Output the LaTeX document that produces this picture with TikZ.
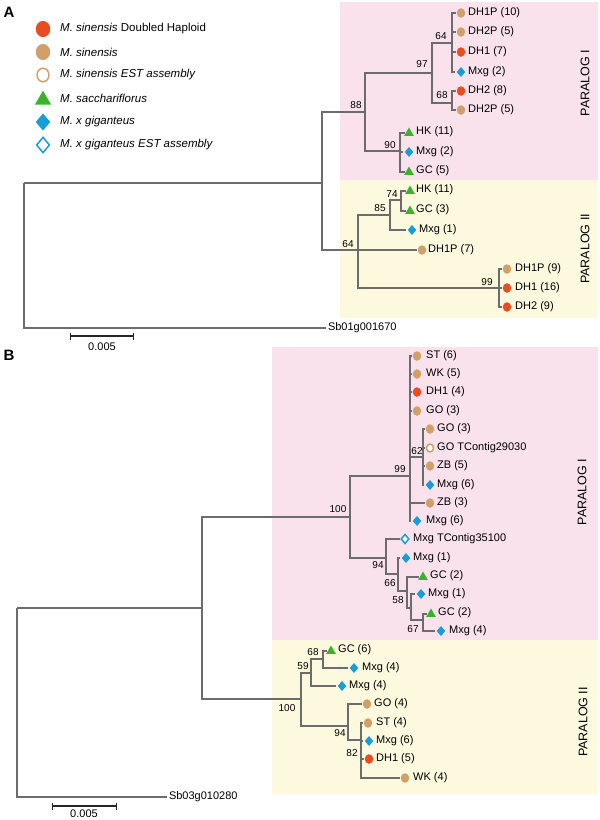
\documentclass[tikz,border=0pt]{standalone}
\usepackage{fontspec}
\setmainfont{Liberation Sans}
\usepackage{tikz}
\usetikzlibrary{shapes.geometric, arrows.meta}
\definecolor{dhred}{RGB}{234,76,34}
\definecolor{sintan}{RGB}{208,160,106}
\definecolor{sacgreen}{RGB}{58,178,42}
\definecolor{mxblue}{RGB}{24,158,214}
\definecolor{treegray}{RGB}{108,108,108}
\definecolor{bgpink}{RGB}{250,226,236}
\definecolor{bgyellow}{RGB}{253,249,222}
\newcommand{\taxfont}{\fontsize{11}{13}\selectfont}
\newcommand{\bootfont}{\fontsize{10}{11}\selectfont}
\tikzset{
  branch/.style={draw=treegray, line width=2.6pt},
  scalebar/.style={{Bar[width=7pt]}-{Bar[width=7pt]}, line width=1.1pt, draw=black!85},
  dhdot/.style={ellipse, fill=dhred, inner sep=0pt,
    minimum width=8.5pt, minimum height=9.5pt, outer sep=1.2pt},
  sidot/.style={ellipse, fill=sintan, inner sep=0pt,
    minimum width=8.5pt, minimum height=9.5pt, outer sep=1.2pt},
  estdot/.style={ellipse, draw=sintan, fill=white, line width=1.5pt, inner sep=0pt,
    minimum width=7pt, minimum height=8pt, outer sep=1.2pt},
  satri/.style={regular polygon, regular polygon sides=3, fill=sacgreen,
    inner sep=0pt, minimum size=11pt, outer sep=0.8pt},
  mxgdia/.style={diamond, fill=mxblue, inner sep=0pt,
    minimum width=9.5pt, minimum height=11pt, outer sep=1.2pt},
  estdia/.style={diamond, draw=mxblue, fill=white, line width=1.5pt, inner sep=0pt,
    minimum width=8.5pt, minimum height=10pt, outer sep=1.2pt},
  legmark/.style={scale=1.7},
  legtext/.style={anchor=west, inner sep=0pt, font=\fontsize{11.5}{13}\selectfont},
  taxon/.style={anchor=west, inner sep=0pt, font=\taxfont},
  outgrp/.style={anchor=west, inner sep=0pt, outer sep=2pt, font=\taxfont},
  boot/.style={inner sep=0pt, font=\bootfont},
  paralog/.style={rotate=90, inner sep=0pt, font=\fontsize{12.5}{14}\selectfont},
  panel/.style={inner sep=0pt, font=\fontsize{15}{17}\selectfont\bfseries}
}

\begin{document}
\begin{tikzpicture}[x=1pt, y=-1pt]
  \useasboundingbox (0,0) rectangle (600,820);

  % shaded paralog blocks
  \fill[bgpink]   (340,2)   rectangle (598,180);
  \fill[bgyellow] (340,180) rectangle (598,318);
  \fill[bgpink]   (272,347) rectangle (598,640);
  \fill[bgyellow] (272,640) rectangle (598,794);

  \node[paralog] (parAI)  at (585,83)  {PARALOG I};
  \node[paralog] (parAII) at (585,249) {PARALOG II};
  \node[paralog] (parBI)  at (582,492) {PARALOG I};
  \node[paralog] (parBII) at (583,722) {PARALOG II};

  % panel letters
  \node[panel] (labA) at (9,12)  {A};
  \node[panel] (labB) at (9,355) {B};

  % legend
  \node[dhdot, legmark]  (lg1) at (43,29)  {};
  \node[sidot, legmark]  (lg2) at (43,52)  {};
  \node[estdot, legmark] (lg3) at (43,75)  {};
  \node[satri, legmark]  (lg4) at (43,100) {};
  \node[mxgdia, legmark] (lg5) at (43,122) {};
  \node[estdia, legmark] (lg6) at (43,145) {};
  \node[legtext] (lt1) at (60,29)  {\textit{M. sinensis} Doubled Haploid};
  \node[legtext] (lt2) at (60,52)  {\textit{M. sinensis}};
  \node[legtext] (lt3) at (60,75)  {\textit{M. sinensis EST assembly}};
  \node[legtext] (lt4) at (60,98)  {\textit{M. sacchariflorus}};
  \node[legtext] (lt5) at (60,122) {\textit{M. x giganteus}};
  \node[legtext] (lt6) at (60,145) {\textit{M. x giganteus EST assembly}};

  % ---------- tree A ----------
  \coordinate (aroot) at (24,183);
  \coordinate (atop)  at (322,183);
  \coordinate (a88)   at (365,112);
  \coordinate (a97)   at (432,73);
  \coordinate (a64)   at (452,43);
  \coordinate (a68)   at (452,103);
  \coordinate (a90)   at (400,151);
  \coordinate (a64b)  at (358,250);
  \coordinate (a85)   at (390,215);
  \coordinate (a74)   at (401,200);
  \coordinate (a99)   at (499,288);

  \node[sidot]  (aL1)  at (461,13)  {};
  \node[sidot]  (aL2)  at (461,32)  {};
  \node[dhdot]  (aL3)  at (461,52)  {};
  \node[mxgdia] (aL4)  at (461,72)  {};
  \node[dhdot]  (aL5)  at (461,91)  {};
  \node[sidot]  (aL6)  at (461,110) {};
  \node[satri]  (aL7)  at (409,133) {};
  \node[mxgdia] (aL8)  at (409,152) {};
  \node[satri]  (aL9)  at (409,172) {};
  \node[satri]  (aL10) at (410,191) {};
  \node[satri]  (aL11) at (410,211) {};
  \node[mxgdia] (aL12) at (412,230) {};
  \node[sidot]  (aL13) at (422,250) {};
  \node[sidot]  (aL14) at (507,269) {};
  \node[dhdot]  (aL15) at (507,288) {};
  \node[dhdot]  (aL16) at (507,307) {};

  \node[taxon] (aT1)  at (468,13)  {DH1P (10)};
  \node[taxon] (aT2)  at (468,32)  {DH2P (5)};
  \node[taxon] (aT3)  at (468,52)  {DH1 (7)};
  \node[taxon] (aT4)  at (468,72)  {Mxg (2)};
  \node[taxon] (aT5)  at (468,91)  {DH2 (8)};
  \node[taxon] (aT6)  at (468,110) {DH2P (5)};
  \node[taxon] (aT7)  at (416,132) {HK (11)};
  \node[taxon] (aT8)  at (416,152) {Mxg (2)};
  \node[taxon] (aT9)  at (416,171) {GC (5)};
  \node[taxon] (aT10) at (416,190) {HK (11)};
  \node[taxon] (aT11) at (416,210) {GC (3)};
  \node[taxon] (aT12) at (419,230) {Mxg (1)};
  \node[taxon] (aT13) at (428,250) {DH1P (7)};
  \node[taxon] (aT14) at (515,269) {DH1P (9)};
  \node[taxon] (aT15) at (515,288) {DH1 (16)};
  \node[taxon] (aT16) at (515,307) {DH2 (9)};
  \node[outgrp] (asb) at (326,328) {Sb01g001670};

  % bootstrap values A
  \node[boot] (ab88) at (356,105) {88};
  \node[boot] (ab97) at (422,64)  {97};
  \node[boot] (ab64) at (441,36)  {64};
  \node[boot] (ab68) at (442,95)  {68};
  \node[boot] (ab90) at (390,145) {90};
  \node[boot] (ab74) at (392,194) {74};
  \node[boot] (ab85) at (380,208) {85};
  \node[boot] (ab64b) at (348,244) {64};
  \node[boot] (ab99) at (487,282) {99};

  \draw[branch] (aroot) -- (atop);
  \draw[branch] (aroot) |- (asb);
  \draw[branch] (atop) |- (a88);
  \draw[branch] (atop) |- (a64b);
  \draw[branch] (a88) |- (a97);
  \draw[branch] (a88) |- (a90);
  \draw[branch] (a97) |- (a64);
  \draw[branch] (a97) |- (a68);
  \draw[branch] (a64) |- (aL1);
  \draw[branch] (a64) |- (aL2);
  \draw[branch] (a64) |- (aL3);
  \draw[branch] (a64) |- (aL4);
  \draw[branch] (a68) |- (aL5);
  \draw[branch] (a68) |- (aL6);
  \draw[branch] (a90) |- (aL7);
  \draw[branch] (a90) |- (aL8);
  \draw[branch] (a90) |- (aL9);
  \draw[branch] (a64b) |- (a85);
  \draw[branch] (a64b) |- (aL13);
  \draw[branch] (a64b) |- (a99);
  \draw[branch] (a85) |- (a74);
  \draw[branch] (a85) |- (aL12);
  \draw[branch] (a74) |- (aL10);
  \draw[branch] (a74) |- (aL11);
  \draw[branch] (a99) |- (aL14);
  \draw[branch] (a99) |- (aL15);
  \draw[branch] (a99) |- (aL16);

  % scale bar A
  \coordinate (asc1) at (70,336);
  \coordinate (asc2) at (134,336);
  \draw[scalebar] (asc1) -- (asc2);
  \node[boot, font=\taxfont] (asclbl) at (102,347) {0.005};

  % ---------- tree B ----------
  \coordinate (broot) at (17,608);
  \coordinate (bA)    at (202,608);
  \coordinate (b100)  at (350,517);
  \coordinate (b99)   at (410,476);
  \coordinate (b62)   at (423,457);
  \coordinate (b94)   at (386,558);
  \coordinate (b66)   at (398,574);
  \coordinate (b58)   at (407,591);
  \coordinate (bX)    at (411,608);
  \coordinate (b67)   at (423,620);
  \coordinate (b100y) at (301,699);
  \coordinate (b59)   at (311,673);
  \coordinate (b68)   at (323,659);
  \coordinate (b94y)  at (348,726);
  \coordinate (b82)   at (361,740);

  \node[sidot]  (bL1)  at (417,356) {};
  \node[sidot]  (bL2)  at (417,374) {};
  \node[dhdot]  (bL3)  at (417,392) {};
  \node[sidot]  (bL4)  at (417,411) {};
  \node[sidot]  (bL5)  at (430,429) {};
  \node[estdot] (bL6)  at (430,448) {};
  \node[sidot]  (bL7)  at (430,466) {};
  \node[mxgdia] (bL8)  at (430,485) {};
  \node[sidot]  (bL9)  at (430,503) {};
  \node[mxgdia] (bL10) at (417,521) {};
  \node[estdia] (bL11) at (405,539) {};
  \node[mxgdia] (bL12) at (406,558) {};
  \node[satri]  (bL13) at (423,577) {};
  \node[mxgdia] (bL14) at (421,594) {};
  \node[satri]  (bL15) at (431,614) {};
  \node[mxgdia] (bL16) at (441,631) {};
  \node[satri]  (bL17) at (331,651) {};
  \node[mxgdia] (bL18) at (354,668) {};
  \node[mxgdia] (bL19) at (342,686) {};
  \node[sidot]  (bL20) at (367,704) {};
  \node[sidot]  (bL21) at (368,723) {};
  \node[mxgdia] (bL22) at (369,741) {};
  \node[dhdot]  (bL23) at (369,759) {};
  \node[sidot]  (bL24) at (405,778) {};

  \node[taxon] (bT1)  at (426,356) {ST (6)};
  \node[taxon] (bT2)  at (426,374) {WK (5)};
  \node[taxon] (bT3)  at (426,392) {DH1 (4)};
  \node[taxon] (bT4)  at (426,411) {GO (3)};
  \node[taxon] (bT5)  at (437,429) {GO (3)};
  \node[taxon] (bT6)  at (437,448) {GO TContig29030};
  \node[taxon] (bT7)  at (437,466) {ZB (5)};
  \node[taxon] (bT8)  at (437,485) {Mxg (6)};
  \node[taxon] (bT9)  at (437,503) {ZB (3)};
  \node[taxon] (bT10) at (426,521) {Mxg (6)};
  \node[taxon] (bT11) at (413,539) {Mxg TContig35100};
  \node[taxon] (bT12) at (413,558) {Mxg (1)};
  \node[taxon] (bT13) at (430,576) {GC (2)};
  \node[taxon] (bT14) at (428,594) {Mxg (1)};
  \node[taxon] (bT15) at (438,613) {GC (2)};
  \node[taxon] (bT16) at (449,631) {Mxg (4)};
  \node[taxon] (bT17) at (338,650) {GC (6)};
  \node[taxon] (bT18) at (362,668) {Mxg (4)};
  \node[taxon] (bT19) at (349,686) {Mxg (4)};
  \node[taxon] (bT20) at (374,704) {GO (4)};
  \node[taxon] (bT21) at (376,723) {ST (4)};
  \node[taxon] (bT22) at (376,741) {Mxg (6)};
  \node[taxon] (bT23) at (376,759) {DH1 (5)};
  \node[taxon] (bT24) at (413,778) {WK (4)};
  \node[outgrp] (bsb) at (167,797) {Sb03g010280};

  % bootstrap values B
  \node[boot] (bb100) at (338,509) {100};
  \node[boot] (bb99)  at (400,469) {99};
  \node[boot] (bb62)  at (417,451) {62};
  \node[boot] (bb94)  at (378,565) {94};
  \node[boot] (bb66)  at (390,583) {66};
  \node[boot] (bb58)  at (398,600) {58};
  \node[boot] (bb67)  at (413,629) {67};
  \node[boot] (bb68)  at (313,652) {68};
  \node[boot] (bb59)  at (303,666) {59};
  \node[boot] (bb100y) at (287,708) {100};
  \node[boot] (bb94y) at (340,733) {94};
  \node[boot] (bb82)  at (352,753) {82};

  \draw[branch] (broot) -- (bA);
  \draw[branch] (broot) |- (bsb);
  \draw[branch] (bA) |- (b100);
  \draw[branch] (bA) |- (b100y);
  \draw[branch] (b100) |- (b99);
  \draw[branch] (b100) |- (b94);
  \draw[branch] (b99) |- (bL1);
  \draw[branch] (b99) |- (bL2);
  \draw[branch] (b99) |- (bL3);
  \draw[branch] (b99) |- (bL4);
  \draw[branch] (b99) |- (b62);
  \draw[branch] (b99) |- (bL9);
  \draw[branch] (b99) |- (bL10);
  \draw[branch] (b62) |- (bL5);
  \draw[branch] (b62) |- (bL6);
  \draw[branch] (b62) |- (bL7);
  \draw[branch] (b62) |- (bL8);
  \draw[branch] (b94) |- (bL11);
  \draw[branch] (b94) |- (b66);
  \draw[branch] (b66) |- (bL12);
  \draw[branch] (b66) |- (b58);
  \draw[branch] (b58) |- (bL13);
  \draw[branch] (b58) |- (bX);
  \draw[branch] (bX) |- (bL14);
  \draw[branch] (bX) |- (b67);
  \draw[branch] (b67) |- (bL15);
  \draw[branch] (b67) |- (bL16);
  \draw[branch] (b100y) |- (b59);
  \draw[branch] (b100y) |- (b94y);
  \draw[branch] (b59) |- (b68);
  \draw[branch] (b59) |- (bL19);
  \draw[branch] (b68) |- (bL17);
  \draw[branch] (b68) |- (bL18);
  \draw[branch] (b94y) |- (bL20);
  \draw[branch] (b94y) |- (b82);
  \draw[branch] (b82) |- (bL21);
  \draw[branch] (b82) |- (bL22);
  \draw[branch] (b82) |- (bL23);
  \draw[branch] (b82) |- (bL24);

  % scale bar B
  \coordinate (bsc1) at (52,806);
  \coordinate (bsc2) at (117,806);
  \draw[scalebar] (bsc1) -- (bsc2);
  \node[boot, font=\taxfont] (bsclbl) at (84,814) {0.005};
\end{tikzpicture}
\end{document}
